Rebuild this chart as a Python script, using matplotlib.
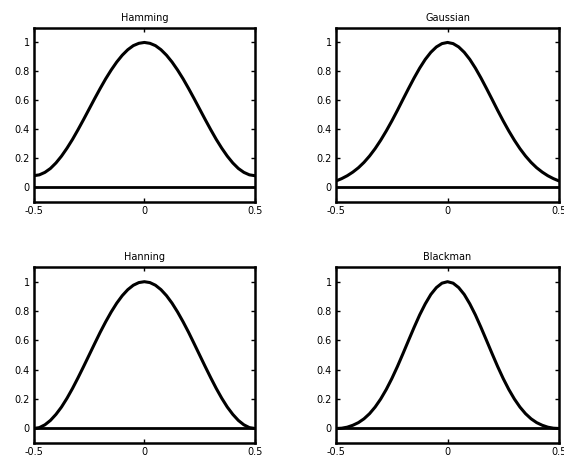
import numpy as np
import matplotlib
matplotlib.use('Agg')
from matplotlib import pyplot as plt

# normalised time axis, 41 samples from -0.5 to 0.5
t = np.linspace(-0.5, 0.5, 41)

# left half of each window (t = -0.5 ... -0.025), peak is 1 at t = 0
half_hamming = [0.080, 0.086, 0.103, 0.130, 0.168, 0.215, 0.270, 0.331, 0.398, 0.468,
                0.540, 0.612, 0.682, 0.749, 0.810, 0.865, 0.912, 0.950, 0.978, 0.994]
half_gauss = [0.044, 0.060, 0.080, 0.105, 0.135, 0.172, 0.216, 0.267, 0.325, 0.389,
              0.458, 0.531, 0.607, 0.682, 0.755, 0.823, 0.883, 0.932, 0.969, 0.992]
half_hanning = [0.000, 0.006, 0.025, 0.055, 0.096, 0.146, 0.206, 0.273, 0.346, 0.422,
                0.500, 0.578, 0.655, 0.727, 0.794, 0.854, 0.905, 0.946, 0.976, 0.994]
half_blackman = [0.000, 0.002, 0.009, 0.022, 0.040, 0.066, 0.101, 0.146, 0.201, 0.266,
                 0.340, 0.422, 0.510, 0.600, 0.689, 0.774, 0.849, 0.913, 0.960, 0.990]

hamming = half_hamming + [1.0] + half_hamming[::-1]
gauss = half_gauss + [1.0] + half_gauss[::-1]
hanning = half_hanning + [1.0] + half_hanning[::-1]
blackman = half_blackman + [1.0] + half_blackman[::-1]

titles = ['Hamming', 'Gaussian', 'Hanning', 'Blackman']
curves = [hamming, gauss, hanning, blackman]

# axes boxes in figure fractions: left, bottom, width, height
boxes = [[0.060, 0.567, 0.392, 0.373],
         [0.596, 0.567, 0.395, 0.373],
         [0.060, 0.049, 0.392, 0.378],
         [0.596, 0.049, 0.395, 0.378]]

fig = plt.figure(figsize=(5.64, 4.66), dpi=100)

for box, name, w in zip(boxes, titles, curves):
    ax = fig.add_axes(box)
    ax.plot(t, w, color='black', lw=2.2, solid_joinstyle='round')
    ax.axhline(0, color='black', lw=2.0)
    ax.set_xlim(-0.5, 0.5)
    ax.set_ylim(-0.1, 1.1)
    ax.set_xticks([-0.5, 0, 0.5])
    ax.set_xticklabels(['-0.5', '0', '0.5'])
    ax.set_yticks([0, 0.2, 0.4, 0.6, 0.8, 1])
    ax.set_yticklabels(['0', '0.2', '0.4', '0.6', '0.8', '1'])
    ax.tick_params(direction='in', top=True, right=True, length=3,
                   width=1.0, labelsize=7, pad=3)
    for s in ax.spines.values():
        s.set_linewidth(1.8)
    ax.set_title(name, fontsize=7, pad=5)

fig.savefig('out.png', dpi=100)
